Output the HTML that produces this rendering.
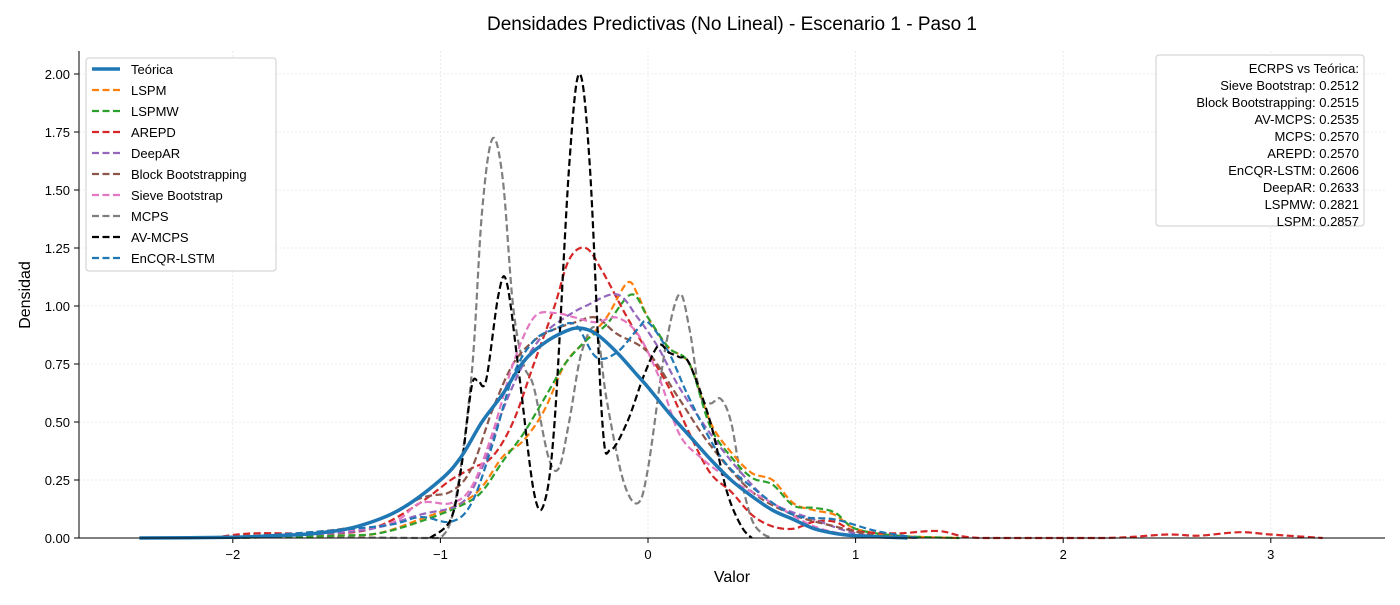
<!DOCTYPE html>
<html><head><meta charset="utf-8"><style>
body{margin:0;background:#fff;font-family:"Liberation Sans",sans-serif}
svg text{font-family:"Liberation Sans","DejaVu Sans",sans-serif}
</style></head><body>
<svg id="c" width="1400" height="600" viewBox="0 0 1400 600"></svg>
<script>
const seriesNames=["Teórica","LSPM","LSPMW","AREPD","DeepAR","Block Bootstrapping","Sieve Bootstrap","MCPS","AV-MCPS","EnCQR-LSTM"];
const colors=["#1f77b4","#ff7f0e","#2ca02c","#d62728","#9467bd","#8c564b","#e377c2","#7f7f7f","#000000","#1f77b4"];
const xTicks=[-2,-1,0,1,2,3];
const yTicks=[0,0.25,0.5,0.75,1.0,1.25,1.5,1.75,2.0];
const teoX=[-2.45,-2,-1.8,-1.6,-1.4,-1.2,-1,-0.9,-0.8,-0.7,-0.6,-0.5,-0.4,-0.33,-0.25,-0.15,-0.05,0,0.1,0.2,0.3,0.4,0.5,0.6,0.7,0.8,0.9,1.0,1.25];
const teoY=[0,0.003,0.01,0.02,0.05,0.12,0.25,0.35,0.5,0.62,0.76,0.84,0.89,0.905,0.88,0.8,0.7,0.65,0.54,0.44,0.34,0.25,0.18,0.12,0.08,0.04,0.02,0.01,0];
const lspmX=[-2,-1.5,-1.3,-1.1,-0.9,-0.8,-0.7,-0.6,-0.5,-0.4,-0.3,-0.2,-0.1,-0.05,0,0.1,0.2,0.3,0.4,0.5,0.6,0.7,0.8,0.9,1.0,1.2,1.5];
const lspmY=[0,0.01,0.02,0.08,0.15,0.22,0.35,0.42,0.55,0.75,0.85,0.95,1.1,1.05,0.95,0.82,0.75,0.5,0.37,0.28,0.25,0.15,0.12,0.1,0.04,0.01,0];
const lspmwX=[-2,-1.5,-1.3,-1.1,-0.9,-0.8,-0.7,-0.6,-0.5,-0.4,-0.3,-0.2,-0.08,0,0.1,0.2,0.3,0.4,0.5,0.6,0.7,0.8,0.9,1.0,1.2,1.5];
const lspmwY=[0,0.01,0.02,0.07,0.14,0.2,0.33,0.45,0.6,0.75,0.85,0.92,1.05,0.95,0.82,0.75,0.48,0.35,0.26,0.23,0.14,0.13,0.11,0.04,0.01,0];
const arepdX=[-2.1,-1.9,-1.5,-1.3,-1.1,-0.95,-0.85,-0.75,-0.65,-0.55,-0.45,-0.38,-0.3,-0.22,-0.1,0,0.1,0.2,0.3,0.4,0.5,0.6,0.7,0.8,0.9,1.0,1.2,1.4,1.6,2.2,2.5,2.65,2.85,3.0,3.25];
const arepdY=[0,0.02,0.02,0.05,0.15,0.25,0.3,0.35,0.5,0.75,1.0,1.2,1.25,1.15,0.95,0.8,0.65,0.45,0.28,0.2,0.1,0.05,0.04,0.07,0.07,0.03,0.02,0.03,0,0,0.015,0.01,0.025,0.015,0];
const deepX=[-2,-1.4,-1.1,-0.9,-0.8,-0.7,-0.6,-0.5,-0.4,-0.3,-0.15,-0.05,0.05,0.15,0.3,0.45,0.6,0.8,1.0,1.2];
const deepY=[0,0.03,0.1,0.15,0.3,0.55,0.75,0.88,0.95,1.0,1.05,0.95,0.82,0.65,0.45,0.28,0.15,0.08,0.02,0];
const blockX=[-2,-1.4,-1.1,-0.95,-0.85,-0.75,-0.65,-0.55,-0.45,-0.35,-0.25,-0.15,0,0.15,0.3,0.5,0.7,0.9,1.1,1.3];
const blockY=[0,0.05,0.17,0.2,0.3,0.55,0.75,0.85,0.9,0.93,0.95,0.88,0.8,0.6,0.4,0.2,0.1,0.05,0.01,0];
const sieveX=[-2,-1.3,-1.1,-0.95,-0.85,-0.75,-0.65,-0.55,-0.45,-0.35,-0.25,-0.15,-0.05,0.05,0.15,0.25,0.4,0.6,0.8,1.0,1.2];
const sieveY=[0,0.05,0.15,0.15,0.22,0.45,0.75,0.95,0.97,0.95,0.93,0.95,0.88,0.7,0.45,0.35,0.25,0.15,0.05,0.01,0];
const mcpsX=[-2,-1.85,-1.5,-1.1,-1.0,-0.93,-0.85,-0.8,-0.75,-0.7,-0.65,-0.6,-0.55,-0.48,-0.43,-0.38,-0.32,-0.25,-0.2,-0.12,-0.05,0,0.08,0.15,0.2,0.25,0.3,0.35,0.4,0.45,0.5,0.55,0.6];
const mcpsY=[0,0.02,0.005,0,0,0.15,0.7,1.4,1.72,1.55,1.0,0.75,0.65,0.35,0.3,0.5,0.8,0.9,0.6,0.25,0.15,0.3,0.8,1.05,0.9,0.62,0.58,0.6,0.5,0.25,0.08,0.02,0];
const avX=[-1.05,-0.95,-0.9,-0.85,-0.82,-0.78,-0.72,-0.68,-0.62,-0.55,-0.5,-0.45,-0.38,-0.33,-0.28,-0.22,-0.18,-0.1,-0.02,0.05,0.1,0.15,0.2,0.3,0.38,0.45,0.5];
const avY=[0,0.08,0.3,0.65,0.68,0.68,1.05,1.1,0.7,0.2,0.15,0.5,1.6,2.0,1.6,0.5,0.38,0.5,0.7,0.83,0.8,0.78,0.75,0.5,0.2,0.05,0];
const encX=[-2,-1.3,-1.1,-0.95,-0.85,-0.75,-0.65,-0.55,-0.45,-0.35,-0.25,-0.15,-0.05,0,0.1,0.2,0.35,0.5,0.7,0.9,1.1,1.3];
const encY=[0,0.05,0.09,0.07,0.15,0.4,0.7,0.85,0.9,0.92,0.78,0.8,0.9,0.93,0.8,0.6,0.35,0.22,0.1,0.08,0.03,0];
const scoreNames=["Sieve Bootstrap","Block Bootstrapping","AV-MCPS","MCPS","AREPD","EnCQR-LSTM","DeepAR","LSPMW","LSPM"];
const scoreVals=[0.2512,0.2515,0.2535,0.2570,0.2570,0.2606,0.2633,0.2821,0.2857];

const L=79,R=1385,T=51,B=538;
const sx=v=>648+v*207.6, sy=v=>B-v*232;
const svg=document.getElementById('c'),NS="http://www.w3.org/2000/svg";
function mk(t,a,p){const e=document.createElementNS(NS,t);for(const k in a)e.setAttribute(k,a[k]);(p||svg).appendChild(e);return e;}
function path(xs,ys){let pts=xs.map((x,i)=>[sx(x),sy(ys[i])]);let d="M"+pts[0][0]+","+pts[0][1];
for(let i=0;i<pts.length-1;i++){const p0=pts[i-1]||pts[i],p1=pts[i],p2=pts[i+1],p3=pts[i+2]||p2;
let c1y=Math.min(B,p1[1]+(p2[1]-p0[1])/6),c2y=Math.min(B,p2[1]-(p3[1]-p1[1])/6);
d+=` C${p1[0]+(p2[0]-p0[0])/6},${c1y} ${p2[0]-(p3[0]-p1[0])/6},${c2y} ${p2[0]},${p2[1]}`;}return d;}
const title=mk('text',{x:732,y:30,'text-anchor':'middle','font-size':19});title.textContent="Densidades Predictivas (No Lineal) - Escenario 1 - Paso 1";


xTicks.forEach(v=>{const l=mk('line',{x1:sx(v),x2:sx(v),y1:T,y2:B,stroke:'#e6e6e6','stroke-dasharray':'2,2','stroke-width':0.8});

mk('line',{x1:sx(v),x2:sx(v),y1:B,y2:B+5,stroke:'#000'});
const t=mk('text',{x:sx(v),y:B+21,'text-anchor':'middle','font-size':13});t.textContent=v<0?"−"+(-v):v;
});
yTicks.forEach(v=>{const l=mk('line',{x1:L,x2:R,y1:sy(v),y2:sy(v),stroke:'#e6e6e6','stroke-dasharray':'2,2','stroke-width':0.8});

mk('line',{x1:L-5,x2:L,y1:sy(v),y2:sy(v),stroke:'#000'});
const t=mk('text',{x:L-9,y:sy(v)+5,'text-anchor':'end','font-size':13});t.textContent=v.toFixed(2);
});
const data=[[teoX,teoY],[lspmX,lspmY],[lspmwX,lspmwY],[arepdX,arepdY],[deepX,deepY],[blockX,blockY],[sieveX,sieveY],[mcpsX,mcpsY],[avX,avY],[encX,encY]];
const order=[7,1,2,3,4,5,6,9,8,0];
order.forEach(i=>{const p=mk('path',{d:path(data[i][0],data[i][1]),fill:'none',stroke:colors[i],'stroke-width':i==0?3.5:2.2,'stroke-dasharray':i==0?'none':'7,3.5'});

});
mk('line',{x1:L,x2:L,y1:T,y2:B,stroke:'#000'});mk('line',{x1:L,x2:R,y1:B,y2:B,stroke:'#000'});
const xl=mk('text',{x:732,y:582,'text-anchor':'middle','font-size':16});xl.textContent="Valor";

const yl=mk('text',{x:30,y:295,'text-anchor':'middle','font-size':16,transform:'rotate(-90 30 295)'});yl.textContent="Densidad";

const lg=mk('g',{});
mk('rect',{x:86,y:58,width:190,height:213,rx:3,fill:'#fff','fill-opacity':0.85,stroke:'#ccc'},lg);
seriesNames.forEach((n,i)=>{const y=69+i*21;
mk('line',{x1:92,x2:120,y1:y,y2:y,stroke:colors[i],'stroke-width':i==0?3.5:2.2,'stroke-dasharray':i==0?'none':'7,3.5'},lg);
const t=mk('text',{x:131,y:y+5,'font-size':13},lg);t.textContent=n;
});
const sb=mk('g',{});
mk('rect',{x:1156,y:55,width:208,height:171,rx:3,fill:'#fff','fill-opacity':0.85,stroke:'#ccc'},sb);
const h=mk('text',{x:1359,y:73,'text-anchor':'end','font-size':13},sb);h.textContent="ECRPS vs Teórica:";
scoreNames.forEach((n,i)=>{const t=mk('text',{x:1359,y:90+i*17,'text-anchor':'end','font-size':13},sb);t.textContent=n+": "+scoreVals[i].toFixed(4);
});
</script>
</body></html>
